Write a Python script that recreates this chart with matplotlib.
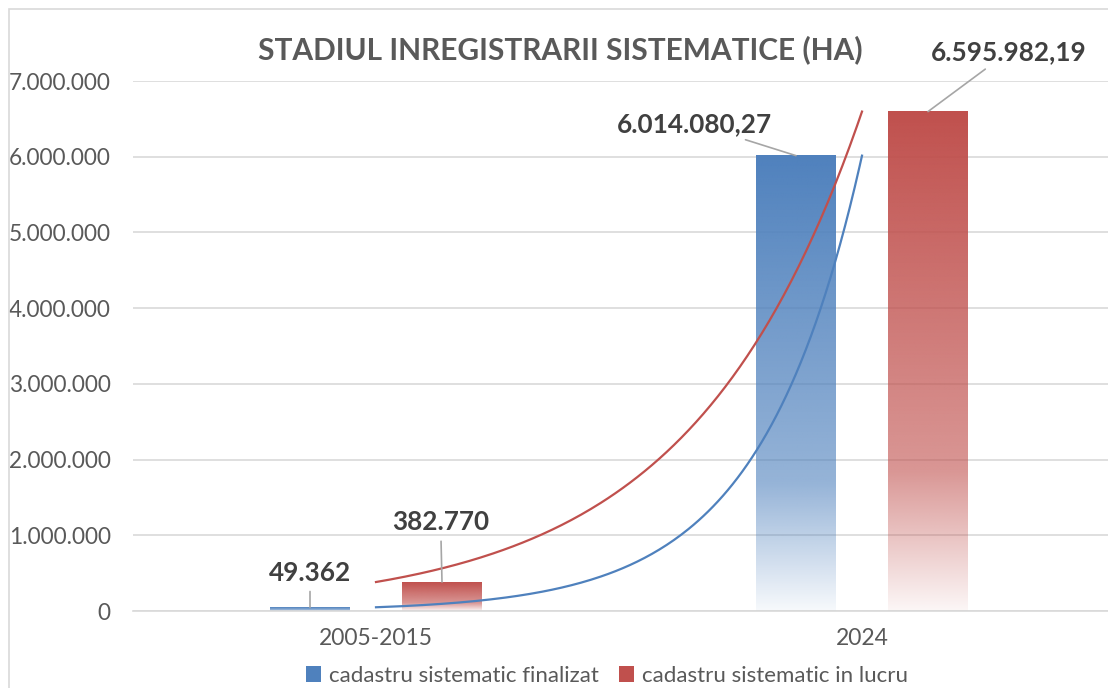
import numpy as np
import matplotlib
matplotlib.use('Agg')
import matplotlib.pyplot as plt
from matplotlib.patches import Rectangle, Patch
from matplotlib.ticker import FuncFormatter

plt.rcParams['font.family'] = ['Lato', 'DejaVu Sans']

# data
categories = ['2005-2015', '2024']
series_names = ['cadastru sistematic finalizat', 'cadastru sistematic in lucru']
finalizat = [49362, 6014080.27]
in_lucru = [382770, 6595982.19]
labels_finalizat = ['49.362', '6.014.080,27']
labels_in_lucru = ['382.770', '6.595.982,19']
yticks = [0, 1000000, 2000000, 3000000, 4000000, 5000000, 6000000, 7000000]

blue = '#4F81BD'
red = '#C0504D'
text_gray = '#595959'
label_gray = '#404040'
grid_gray = '#D9D9D9'

W, H = 1108, 688
fig = plt.figure(figsize=(W / 100, H / 100), dpi=100)
ax = fig.add_axes([133 / W, 1 - 611 / H, (1108 - 133) / W, (611 - 81) / H])

# chart border (cut at right / bottom like the screenshot)
fig.patches.append(Rectangle((9 / W, -0.2), 2, 1.2 - 9 / H, transform=fig.transFigure,
                             fill=False, edgecolor=grid_gray, linewidth=1.2))

x = np.arange(len(categories))
bar_w = 0.1626
offset = 0.1358


def gradient_bar(ax, xc, height, color):
    rgb = np.array(matplotlib.colors.to_rgb(color))
    t = np.linspace(0, 1, 256)[:, None]  # 0 top -> 1 bottom
    alpha = np.interp(t, [0, 0.72, 1.0], [1.0, 0.6, 0.05])
    img = np.ones((256, 1, 4))
    img[:, :, :3] = rgb
    img[:, :, 3] = alpha
    ax.imshow(img, extent=(xc - bar_w / 2, xc + bar_w / 2, 0, height), aspect='auto',
              origin='upper', zorder=2, interpolation='bilinear')


for i in range(len(categories)):
    gradient_bar(ax, x[i] - offset, finalizat[i], blue)
    gradient_bar(ax, x[i] + offset, in_lucru[i], red)

# exponential trendlines (like Excel), fitted on the series values
xs = np.linspace(x[0], x[-1], 200)
for vals, col in [(in_lucru, red), (finalizat, blue)]:
    b, a = np.polyfit(x, np.log(vals), 1)
    ax.plot(xs, np.exp(a + b * xs), color=col, lw=1.6, zorder=3)

# data labels with leader lines (offsets in points)
label_offsets_f = [(0, 25), (-73, 23)]
label_offsets_r = [(-1, 43), (58, 43)]
lab_kw = dict(fontsize=18.8, fontweight='bold', color=label_gray, ha='center', va='center',
              annotation_clip=False, zorder=5)
for i in range(len(categories)):
    ax.annotate(labels_finalizat[i], (x[i] - offset, finalizat[i]), xytext=label_offsets_f[i],
                textcoords='offset points',
                arrowprops=dict(arrowstyle='-', color='#A6A6A6', lw=1.2, shrinkA=3, shrinkB=0),
                **lab_kw)
    ax.annotate(labels_in_lucru[i], (x[i] + offset, in_lucru[i]), xytext=label_offsets_r[i],
                textcoords='offset points',
                arrowprops=dict(arrowstyle='-', color='#A6A6A6', lw=1.2, shrinkA=3, shrinkB=0),
                **lab_kw)

ax.set_xlim(-0.5, 1 + (1108 - 862) / 486)
ax.set_ylim(0, 7000000)
ax.set_yticks(yticks)
ax.yaxis.set_major_formatter(FuncFormatter(lambda v, p: f'{int(v):,}'.replace(',', '.')))
ax.set_xticks(x)
ax.set_xticklabels(categories)
ax.grid(axis='y', color=grid_gray, lw=1.2, zorder=0)
ax.set_axisbelow(True)
for s in ['top', 'right', 'left']:
    ax.spines[s].set_visible(False)
ax.spines['bottom'].set_color(grid_gray)
ax.spines['bottom'].set_linewidth(1.2)
ax.tick_params(axis='y', length=0, labelsize=16.3, labelcolor=text_gray, pad=16)
ax.tick_params(axis='x', length=0, labelsize=16.5, labelcolor=text_gray, pad=12)

fig.text(560 / W, 1 - 50 / H, 'STADIUL INREGISTRARII SISTEMATICE (HA)', fontsize=21.5,
         fontweight='bold', color=text_gray, ha='center', va='center')

handles = [Patch(facecolor=blue, edgecolor='none'), Patch(facecolor=red, edgecolor='none')]
fig.legend(handles, series_names, loc='center', bbox_to_anchor=(607 / W, 1 - 676 / H), ncol=2,
           frameon=False, fontsize=16, labelcolor=text_gray, handlelength=0.7,
           handleheight=0.7, handletextpad=0.35, columnspacing=0.9)

fig.savefig('out.png', dpi=100)
